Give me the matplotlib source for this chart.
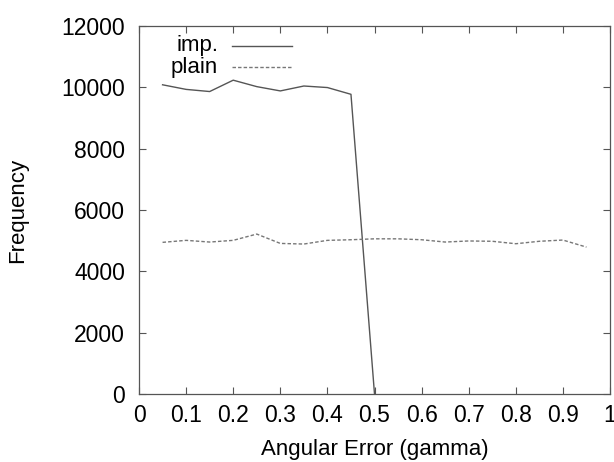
import matplotlib
matplotlib.use('Agg')
from matplotlib import pyplot as plt

plt.rcParams['font.family'] = ['Liberation Sans', 'DejaVu Sans']

gamma_imp = [0.05, 0.1, 0.15, 0.2, 0.25, 0.3, 0.35, 0.4, 0.45, 0.5]
freq_imp = [10080, 9930, 9860, 10230, 10020, 9880, 10040, 9990, 9770, 0]

gamma_plain = [0.05, 0.1, 0.15, 0.2, 0.25, 0.3, 0.35, 0.4, 0.45, 0.5,
               0.55, 0.6, 0.65, 0.7, 0.75, 0.8, 0.85, 0.9, 0.95]
freq_plain = [4945, 5010, 4955, 5010, 5215, 4910, 4890, 5010, 5030, 5060,
              5060, 5030, 4955, 4990, 4980, 4900, 4980, 5020, 4790]

xticks = [0, 0.1, 0.2, 0.3, 0.4, 0.5, 0.6, 0.7, 0.8, 0.9, 1]
xtick_labels = ['0', '0.1', '0.2', '0.3', '0.4', '0.5', '0.6', '0.7', '0.8', '0.9', '1']
yticks = [0, 2000, 4000, 6000, 8000, 10000, 12000]

fig = plt.figure(figsize=(6.14, 4.62), dpi=100)
ax = fig.add_axes([0.2264, 0.147, 0.7671, 0.797])

ax.plot(gamma_imp, freq_imp, color='#555555', lw=1.0)
ax.plot(gamma_plain, freq_plain, color='#777777', lw=1.0, ls=(0, (2.5, 1.5)))

ax.set_xlim(0, 1)
ax.set_ylim(0, 12000)
ax.set_xticks(xticks)
ax.set_xticklabels(xtick_labels)
ax.set_yticks(yticks)
ax.tick_params(direction='in', top=True, right=True, length=5, width=0.8,
               color='#555555', labelsize=16.5)
ax.tick_params(axis='x', pad=7)
ax.tick_params(axis='y', pad=10)
for s in ax.spines.values():
    s.set_color('#555555')
    s.set_linewidth(0.9)

ax.set_xlabel('Angular Error (gamma)', fontsize=16, labelpad=9)
ax.set_ylabel('Frequency', fontsize=16, labelpad=24)

# legend drawn gnuplot-style: right-aligned titles followed by sample lines
ax.text(0.168, 0.946, 'imp.', transform=ax.transAxes, ha='right', va='center', fontsize=16)
ax.text(0.168, 0.887, 'plain', transform=ax.transAxes, ha='right', va='center', fontsize=16)
ax.plot([0.198, 0.325], [0.946, 0.946], transform=ax.transAxes, color='#555555', lw=1.0)
ax.plot([0.198, 0.325], [0.887, 0.887], transform=ax.transAxes, color='#777777', lw=1.0,
        ls=(0, (2.5, 1.5)))

fig.savefig('out.png', dpi=100)
